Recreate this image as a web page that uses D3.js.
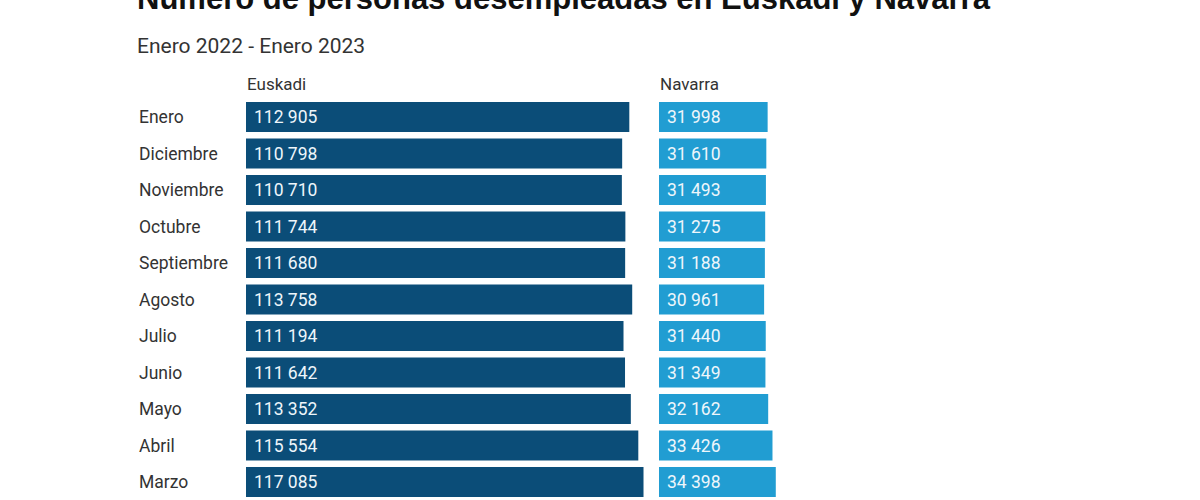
<!DOCTYPE html>
<html><head><meta charset="utf-8">
<script src="https://cdn.jsdelivr.net/npm/d3@7/dist/d3.min.js"></script>
<style>body{margin:0;background:#fff}svg{display:block}</style>
</head><body>
<svg id="c" width="1200" height="500"></svg>
<script>
const months = ["Enero","Diciembre","Noviembre","Octubre","Septiembre","Agosto","Julio","Junio","Mayo","Abril","Marzo"];
const euskadi = [112905,110798,110710,111744,111680,113758,111194,111642,113352,115554,117085];
const navarra = [31998,31610,31493,31275,31188,30961,31440,31349,32162,33426,34398];
const seriesNames = ["Euskadi","Navarra"];
const title = "Número de personas desempleadas en Euskadi y Navarra";
const subtitle = "Enero 2022 - Enero 2023";

const svg = d3.select("#c");
const fmt = d3.formatLocale({decimal:",",thousands:" ",grouping:[3],currency:["","€"]}).format(",d");

const y = d3.scaleBand().domain(months).range([102, 497]).paddingInner(0.178).paddingOuter(0);
const x = d3.scaleLinear().domain([0, 120000]).range([0, 407.4]);
const cols = [{name:seriesNames[0], x0:246, vals:euskadi, color:"#0b4d78"},
              {name:seriesNames[1], x0:659, vals:navarra, color:"#219dd2"}];

svg.append("text").attr("x",137).attr("y",9).attr("font-family","Liberation Sans, Arial, sans-serif")
  .attr("font-weight","bold").attr("font-size",31).attr("fill","#111").text(title);
svg.append("text").attr("x",137).attr("y",53).attr("font-family","Roboto, sans-serif")
  .attr("font-size",21).attr("fill","#333").text(subtitle);

svg.append("g").selectAll("text").data(months).join("text")
  .attr("x",139).attr("y",d=>y(d)+y.bandwidth()/2).attr("dy","0.35em")
  .attr("font-family","Roboto, sans-serif").attr("font-size",17.5).attr("fill","#333").text(d=>d);

cols.forEach(c=>{
  const g = svg.append("g");
  g.append("text").attr("x",c.x0+1).attr("y",90).attr("font-family","Roboto, sans-serif")
    .attr("font-size",17).attr("fill","#333").text(c.name);
  g.selectAll("rect").data(months).join("rect")
    .attr("x",c.x0).attr("y",d=>y(d)).attr("height",y.bandwidth())
    .attr("width",(d,i)=>x(c.vals[i])).attr("fill",c.color);
  g.selectAll("text.v").data(months).join("text").attr("class","v")
    .attr("x",c.x0+8).attr("y",d=>y(d)+y.bandwidth()/2).attr("dy","0.36em")
    .attr("font-family","Roboto, sans-serif").attr("font-size",17.5).attr("fill","#eef6fb")
    .text((d,i)=>fmt(c.vals[i]));
});
</script>
</body></html>
